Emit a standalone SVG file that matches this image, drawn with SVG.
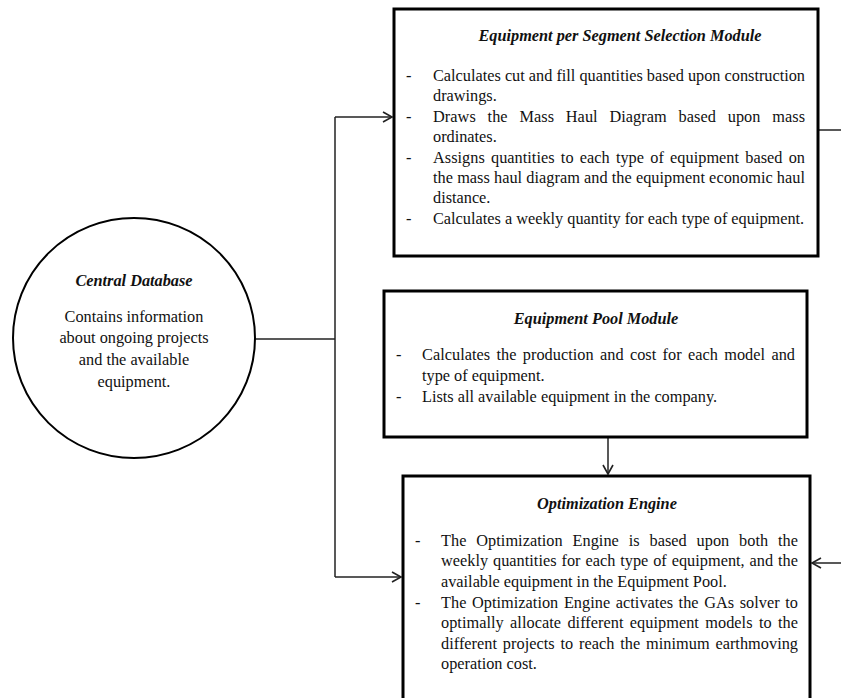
<svg xmlns="http://www.w3.org/2000/svg" width="841" height="698" viewBox="0 0 841 698">
<defs>
<style>
.box{fill:#fff;stroke:#000;stroke-width:3}
.t{font-family:"Liberation Serif","Times New Roman",serif;font-size:16.3px;fill:#111}
.h{font-family:"Liberation Serif","Times New Roman",serif;font-size:16.3px;font-weight:bold;font-style:italic;fill:#111}
.c{text-anchor:middle}
.ln{fill:none;stroke:#222;stroke-width:1.5}
</style>
<marker id="ah" markerWidth="12" markerHeight="12" refX="10" refY="6" orient="auto" markerUnits="userSpaceOnUse">
<path d="M1,1 L10,6 L1,11" fill="none" stroke="#222" stroke-width="1.6"/>
</marker>
</defs>
<rect width="841" height="698" fill="#fff"/>
<g id="connectors">
<line class="ln" x1="255" y1="339" x2="335" y2="339"/>
<line class="ln" x1="335" y1="117" x2="335" y2="577"/>
<line class="ln" x1="335" y1="117" x2="392" y2="117" marker-end="url(#ah)"/>
<line class="ln" x1="335" y1="577" x2="401" y2="577" marker-end="url(#ah)"/>
<line class="ln" x1="608" y1="438" x2="608" y2="474" marker-end="url(#ah)"/>
<line class="ln" x1="819" y1="130" x2="841" y2="130"/>
<line class="ln" x1="841" y1="563" x2="812" y2="563" marker-end="url(#ah)"/>
</g>
<g id="central-database">
<ellipse cx="134" cy="338" rx="121" ry="120" fill="#fff" stroke="#000" stroke-width="2"/>
<text class="h c" x="134" y="286">Central Database</text>
<text class="t c" x="134" y="322">Contains information</text>
<text class="t c" x="134" y="343">about ongoing projects</text>
<text class="t c" x="134" y="365">and the available</text>
<text class="t c" x="134" y="387">equipment.</text>
</g>
<g id="segment-module">
<rect class="box" x="394" y="9" width="424" height="247"/>
<text class="h c" x="620" y="41">Equipment per Segment Selection Module</text>
<text class="t" x="406" y="81">-</text>
<text class="t" x="433" y="81" textLength="372" lengthAdjust="spacing">Calculates cut and fill quantities based upon construction</text>
<text class="t" x="433" y="101">drawings.</text>
<text class="t" x="406" y="122">-</text>
<text class="t" x="433" y="122" word-spacing="7.6" textLength="372" lengthAdjust="spacing">Draws the Mass Haul Diagram based upon mass</text>
<text class="t" x="433" y="142">ordinates.</text>
<text class="t" x="406" y="163">-</text>
<text class="t" x="433" y="163" word-spacing="2.1" textLength="372" lengthAdjust="spacing">Assigns quantities to each type of equipment based on</text>
<text class="t" x="433" y="183" textLength="372" lengthAdjust="spacing">the mass haul diagram and the equipment economic haul</text>
<text class="t" x="433" y="203">distance.</text>
<text class="t" x="406" y="224">-</text>
<text class="t" x="433" y="224">Calculates a weekly quantity for each type of equipment.</text>
</g>
<g id="pool-module">
<rect class="box" x="384" y="291" width="423" height="146"/>
<text class="h c" x="596" y="324">Equipment Pool Module</text>
<text class="t" x="396" y="360">-</text>
<text class="t" x="422" y="360" word-spacing="2.2" textLength="373" lengthAdjust="spacing">Calculates the production and cost for each model and</text>
<text class="t" x="422" y="381">type of equipment.</text>
<text class="t" x="396" y="402">-</text>
<text class="t" x="422" y="402">Lists all available equipment in the company.</text>
</g>
<g id="optimization-engine">
<rect class="box" x="403" y="476" width="407" height="240"/>
<text class="h c" x="607" y="509">Optimization Engine</text>
<text class="t" x="415" y="546">-</text>
<text class="t" x="441" y="546" word-spacing="5.7" textLength="357" lengthAdjust="spacing">The Optimization Engine is based upon both the</text>
<text class="t" x="441" y="566" word-spacing="0.8" textLength="357" lengthAdjust="spacing">weekly quantities for each type of equipment, and the</text>
<text class="t" x="441" y="587">available equipment in the Equipment Pool.</text>
<text class="t" x="415" y="608">-</text>
<text class="t" x="441" y="608" word-spacing="1.5" textLength="357" lengthAdjust="spacing">The Optimization Engine activates the GAs solver to</text>
<text class="t" x="441" y="628" word-spacing="2.3" textLength="357" lengthAdjust="spacing">optimally allocate different equipment models to the</text>
<text class="t" x="441" y="649" word-spacing="1.7" textLength="357" lengthAdjust="spacing">different projects to reach the minimum earthmoving</text>
<text class="t" x="441" y="669">operation cost.</text>
</g>
</svg>
